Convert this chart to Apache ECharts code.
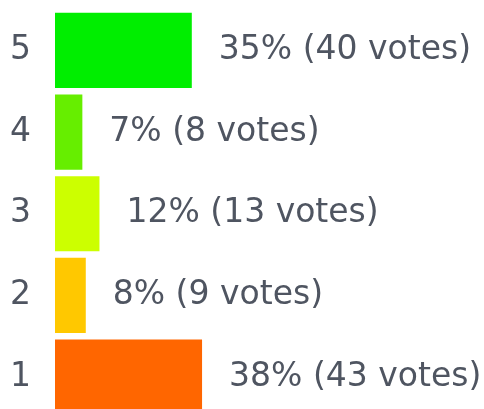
<!DOCTYPE html>
<html><head><meta charset="utf-8">
<script src="https://cdn.jsdelivr.net/npm/echarts@6/dist/echarts.min.js"></script>
<style>html,body{margin:0;padding:0;background:#fff;overflow:hidden;width:484px;height:409px}#c{width:484px;height:430px}</style>
</head><body><div id="c"></div>
<script>
const categories = ['1', '2', '3', '4', '5'];
const votes = [43, 9, 13, 8, 40];
const percents = [38, 8, 12, 7, 35];
const colors = ['#ff6600', '#ffc800', '#ccff00', '#66ee00', '#00ee00'];

const chart = echarts.init(document.getElementById('c'), null, {renderer: 'canvas'});
chart.setOption({
  animation: false,
  grid: {left: 55, top: 9.5, width: 342, height: 408.5, containLabel: false},
  xAxis: {type: 'value', min: 0, max: 100, show: false},
  yAxis: {
    type: 'category', data: categories,
    axisLine: {show: false}, axisTick: {show: false}, splitLine: {show: false},
    axisLabel: {margin: 24, color: '#4f5561', fontFamily: 'DejaVu Sans', fontSize: 33}
  },
  series: [{
    type: 'bar',
    barCategoryGap: '8%',
    data: votes.map((v, i) => ({value: v, itemStyle: {color: colors[i]}})),
    label: {
      show: true, position: 'right', distance: 27,
      color: '#4f5561', fontFamily: 'DejaVu Sans', fontSize: 33,
      formatter: p => percents[p.dataIndex] + '% (' + votes[p.dataIndex] + ' votes)'
    }
  }]
});
</script></body></html>
